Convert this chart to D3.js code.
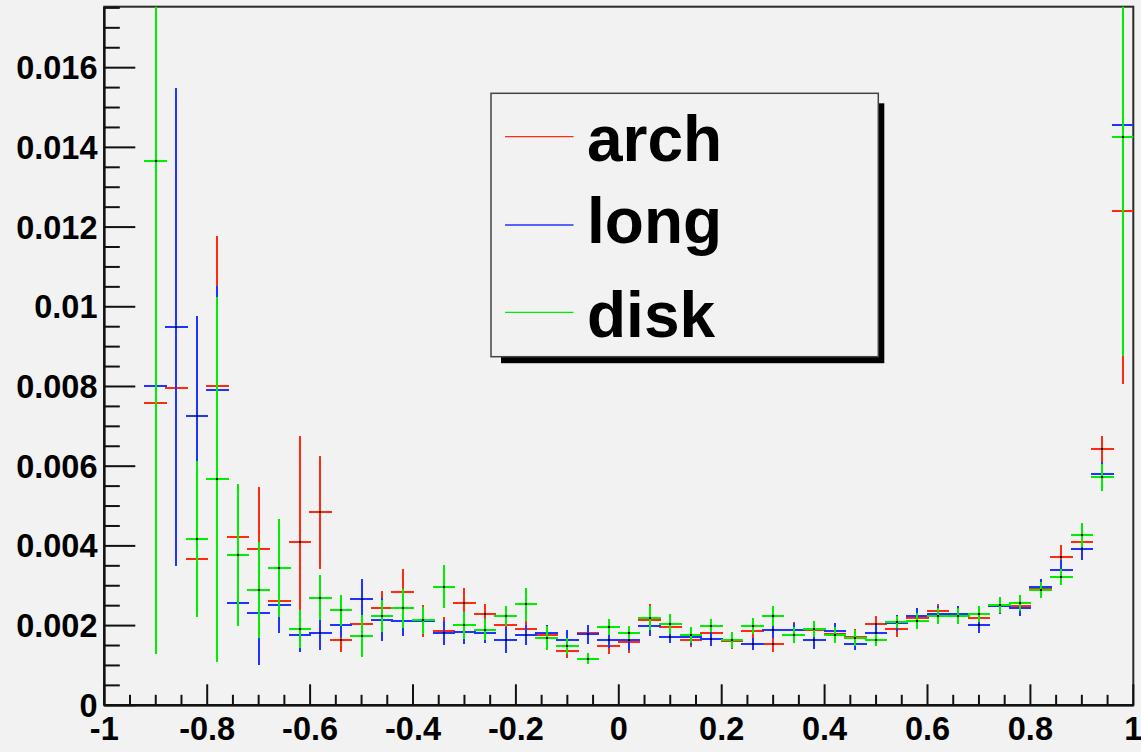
<!DOCTYPE html>
<html>
<head>
<meta charset="utf-8">
<script src="https://cdn.jsdelivr.net/npm/d3@7"></script>
<style>
  html, body { margin: 0; padding: 0; background: #f2f2f2; }
  svg { display: block; }
  text { font-family: "Liberation Sans", Arial, Helvetica, sans-serif; font-weight: bold; }
</style>
</head>
<body>
<svg id="chart" width="1141" height="752"></svg>
<script>
// ---------------- data ----------------
const binCenters = [-0.98,-0.94,-0.90,-0.86,-0.82,-0.78,-0.74,-0.70,-0.66,-0.62,
  -0.58,-0.54,-0.50,-0.46,-0.42,-0.38,-0.34,-0.30,-0.26,-0.22,
  -0.18,-0.14,-0.10,-0.06,-0.02,0.02,0.06,0.10,0.14,0.18,
  0.22,0.26,0.30,0.34,0.38,0.42,0.46,0.50,0.54,0.58,
  0.62,0.66,0.70,0.74,0.78,0.82,0.86,0.90,0.94,0.98];
const binWidth = 0.04;

const archValues = [null,null,0.00759,0.00795,0.00368,0.00800,0.00423,0.00391,0.00261,0.00409,
  0.00484,0.00163,0.00205,0.00243,0.00284,0.00211,0.00187,0.00257,0.00228,0.00201,
  0.00191,0.00177,0.00136,0.00181,0.00150,0.00160,0.00215,0.00196,0.00164,0.00181,
  0.00162,0.00187,0.00154,0.00188,0.00190,0.00180,0.00171,0.00205,0.00192,0.00220,
  0.00237,0.00226,0.00219,0.00249,0.00250,0.00295,0.00372,0.00410,0.00642,0.01241];
const archErrors = [0,0,0.0035,0.0040,0.0012,0.00378,0.0012,0.00158,0.0004,0.00266,
  0.00141,0.00029,0.0003,0.00043,0.00057,0.0004,0.00034,0.00038,0.00025,0.0003,
  0.0003,0.0002,0.00017,0.0002,0.00022,0.00028,0.00039,0.0002,0.00018,0.0002,
  0.0002,0.0002,0.0002,0.0002,0.00022,0.00018,0.0002,0.0002,0.0002,0.0002,
  0.00017,0.0002,0.0002,0.0002,0.0002,0.0002,0.0003,0.0003,0.00034,0.00434];

const longValues = [null,null,0.00800,0.00949,0.00726,0.00790,0.00256,0.00232,0.00252,0.00177,
  0.00182,0.00201,0.00266,0.00215,0.00211,0.00211,0.00182,0.00183,0.00182,0.00163,
  0.00177,0.00181,0.00163,0.00178,0.00164,0.00164,0.00200,0.00172,0.00172,0.00167,
  0.00164,0.00154,0.00188,0.00190,0.00164,0.00187,0.00154,0.00182,0.00207,0.00223,
  0.00228,0.00228,0.00201,0.00248,0.00243,0.00298,0.00340,0.00391,0.00581,0.01455];
const longErrors = [0,0,0.004,0.0060,0.00251,0.00263,0.0005,0.00132,0.0007,0.00043,
  0.00044,0.0003,0.00052,0.00054,0.00037,0.0003,0.0003,0.0003,0.00025,0.00033,
  0.00025,0.0002,0.00025,0.00024,0.0002,0.00026,0.00025,0.00016,0.0002,0.00017,
  0.00018,0.00014,0.0002,0.00017,0.00022,0.0002,0.00016,0.0002,0.0002,0.0002,
  0.0002,0.0002,0.0002,0.0002,0.0002,0.0002,0.00025,0.00026,0.0003,0.004];

const diskValues = [null,null,0.01367,null,0.00417,0.00567,0.00377,0.00289,0.00345,0.00191,
  0.00270,0.00238,0.00173,0.00223,0.00243,0.00213,0.00298,0.00201,0.00190,0.00223,
  0.00253,0.00168,0.00149,0.00117,0.00196,0.00182,0.00218,0.00205,0.00176,0.00200,
  0.00164,0.00200,0.00223,0.00177,0.00192,0.00177,0.00168,0.00164,0.00209,0.00211,
  0.00224,0.00224,0.00228,0.00251,0.00256,0.00289,0.00322,0.00428,0.00572,0.01427];
const diskErrors = [0,0,0.01239,0,0.00196,0.00458,0.00178,0.0012,0.00123,0.00047,
  0.00057,0.00038,0.00053,0.0004,0.0005,0.00033,0.00053,0.00034,0.00027,0.00025,
  0.00041,0.0003,0.0002,0.00013,0.0002,0.00016,0.0003,0.00025,0.0002,0.00016,
  0.0002,0.0002,0.00025,0.0002,0.0002,0.0002,0.0002,0.00015,0.00016,0.0002,
  0.0002,0.0002,0.0002,0.0002,0.0002,0.0002,0.00021,0.0003,0.00034,0.00551];

const seriesNames = ["arch", "long", "disk"];
const seriesColors = ["#ff2a10", "#1f35ff", "#00ee00"];

const xTickValues = [-1,-0.8,-0.6,-0.4,-0.2,0,0.2,0.4,0.6,0.8,1];
const xTickLabels = ["-1","-0.8","-0.6","-0.4","-0.2","0","0.2","0.4","0.6","0.8","1"];
const yTickValues = [0,0.002,0.004,0.006,0.008,0.01,0.012,0.014,0.016];
const yTickLabels = ["0","0.002","0.004","0.006","0.008","0.01","0.012","0.014","0.016"];

// ---------------- layout ----------------
const W = 1141, H = 752;
const frame = { left: 104.3, right: 1133.3, top: 6.7, bottom: 705.3 };
const x = d3.scaleLinear().domain([-1, 1]).range([frame.left, frame.right]);
const y = d3.scaleLinear().domain([0, 0.01753]).range([frame.bottom, frame.top]);
const px = v => Math.round(x(v));

const svg = d3.select("#chart");
svg.append("rect").attr("width", W).attr("height", H).attr("fill", "#f2f2f2");

svg.append("defs").append("clipPath").attr("id", "plotclip")
  .append("rect")
  .attr("x", frame.left).attr("y", frame.top)
  .attr("width", frame.right - frame.left).attr("height", frame.bottom - frame.top);

// frame
svg.append("rect")
  .attr("x", frame.left).attr("y", frame.top)
  .attr("width", frame.right - frame.left).attr("height", frame.bottom - frame.top)
  .attr("fill", "none").attr("stroke", "#2a2a2a").attr("stroke-width", 2);

// ---------------- axes ----------------
const majorX = 21, minorX = 10.5;
const majorY = 31, minorY = 15.5;

const xAxisG = svg.append("g").attr("class", "xaxis");
const xMinor = d3.range(-1, 1.0001, 0.05);
xAxisG.selectAll("line.minor").data(xMinor).enter().append("line")
  .attr("x1", d => x(d)).attr("x2", d => x(d))
  .attr("y1", frame.bottom).attr("y2", (d) => {
    const isMajor = Math.abs(d * 5 - Math.round(d * 5)) < 1e-6;
    return frame.bottom - (isMajor ? majorX : minorX);
  })
  .attr("stroke", "#111").attr("stroke-width", 2);
xAxisG.append("line").attr("x1", frame.left).attr("x2", frame.right)
  .attr("y1", frame.bottom).attr("y2", frame.bottom)
  .attr("stroke", "#111").attr("stroke-width", 2.4);
xAxisG.selectAll("text").data(xTickValues).enter().append("text")
  .attr("x", d => x(d)).attr("y", 739.5)
  .attr("text-anchor", "middle")
  .attr("font-size", 32.5).attr("fill", "#000")
  .text((d, i) => xTickLabels[i]);

const yAxisG = svg.append("g").attr("class", "yaxis");
const yMinor = d3.range(0, 0.01753, 0.0005);
yAxisG.selectAll("line").data(yMinor).enter().append("line")
  .attr("y1", d => y(d)).attr("y2", d => y(d))
  .attr("x1", frame.left).attr("x2", (d) => {
    const isMajor = Math.abs(d / 0.002 - Math.round(d / 0.002)) < 1e-6;
    return frame.left + (isMajor ? majorY : minorY);
  })
  .attr("stroke", "#111").attr("stroke-width", 2);
yAxisG.append("line").attr("x1", frame.left).attr("x2", frame.left)
  .attr("y1", frame.top).attr("y2", frame.bottom)
  .attr("stroke", "#111").attr("stroke-width", 2.4);
yAxisG.selectAll("text").data(yTickValues).enter().append("text")
  .attr("x", 97.5).attr("y", d => y(d) + 11.5)
  .attr("text-anchor", "end")
  .attr("font-size", 32.5).attr("fill", "#000")
  .text((d, i) => yTickLabels[i]);

// ---------------- data marks ----------------
const seriesValues = [archValues, longValues, diskValues];
const seriesErrors = [archErrors, longErrors, diskErrors];
const dataG = svg.append("g").attr("clip-path", "url(#plotclip)");

seriesNames.forEach((name, si) => {
  const pts = binCenters.map((c, i) => ({ c, v: seriesValues[si][i], e: seriesErrors[si][i] }))
    .filter(p => p.v !== null);
  const g = dataG.append("g").attr("class", "series-" + name).attr("shape-rendering", "crispEdges");
  g.selectAll("line.h").data(pts).enter().append("line")
    .attr("class", "h")
    .attr("x1", p => px(p.c - binWidth / 2) - 1).attr("x2", p => px(p.c + binWidth / 2) + 1)
    .attr("y1", p => Math.round(y(p.v))).attr("y2", p => Math.round(y(p.v)))
    .attr("stroke", seriesColors[si]).attr("stroke-width", 2);
  g.selectAll("line.v").data(pts).enter().append("line")
    .attr("class", "v")
    .attr("x1", p => px(p.c)).attr("x2", p => px(p.c))
    .attr("y1", p => y(p.v - p.e)).attr("y2", p => y(p.v + p.e))
    .attr("stroke", seriesColors[si]).attr("stroke-width", 2);
  g.selectAll("rect.m").data(pts).enter().append("rect")
    .attr("class", "m")
    .attr("x", p => px(p.c) - 1).attr("y", p => Math.round(y(p.v)) - 1)
    .attr("width", 2).attr("height", 2).attr("fill", "#000");
});

// ---------------- legend ----------------
const leg = { x: 491, y: 93.3, w: 387.3, h: 263.4 };
const legG = svg.append("g").attr("class", "legend");
legG.append("rect")
  .attr("x", leg.x + 10).attr("y", leg.y + 10)
  .attr("width", leg.w - 4).attr("height", leg.h - 3.5)
  .attr("fill", "#000");
legG.append("rect")
  .attr("x", leg.x).attr("y", leg.y).attr("width", leg.w).attr("height", leg.h)
  .attr("fill", "#f2f2f2").attr("stroke", "#444").attr("stroke-width", 1.5);

const legRowY = [136.7, 225, 312.3];
seriesNames.forEach((name, i) => {
  legG.append("line")
    .attr("x1", 505).attr("x2", 573.5)
    .attr("y1", legRowY[i]).attr("y2", legRowY[i])
    .attr("stroke", seriesColors[i]).attr("stroke-width", 1.3);
  const desc = /[gjpqy]/.test(name);
  legG.append("text")
    .attr("x", 587).attr("y", legRowY[i] + (desc ? 18 : 24.3))
    .attr("font-size", 64).attr("fill", "#000")
    .text(name);
});
</script>
</body>
</html>
